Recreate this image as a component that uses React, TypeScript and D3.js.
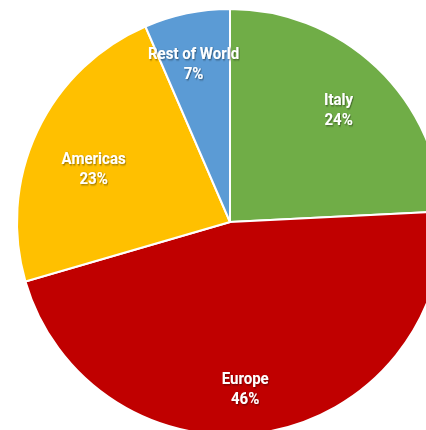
import React from "react";
import * as d3 from "d3";

const categories = ["Italy", "Europe", "Americas", "Rest of World"];
const values = [24.2, 46.3, 23.0, 6.5];
const colors = ["#70AD47", "#C00000", "#FFC000", "#5B9BD5"];

const W = 426, H = 430;
const cx = 230, cy = 222, R = 213;

export default function App() {
  const data = categories.map((c, i) => ({ c, v: values[i], col: colors[i] }));
  const pie = d3.pie<any>().value((d) => d.v).sort(null);
  const arcs = pie(data);
  const arc = d3.arc<any>().innerRadius(0).outerRadius(R);
  const total = d3.sum(values);
  const labelR: Record<string, number> = { Italy: 0.74, Europe: 0.78, Americas: 0.69, "Rest of World": 0.77 };
  const labelShift: Record<string, number> = { Europe: 0.075, Americas: -0.058, "Rest of World": -0.02 };
  return (
    <svg width={W} height={H} style={{ position: "absolute", left: 0, top: 0 }}>
      <defs>
        <filter id="sh" x="-20%" y="-20%" width="140%" height="140%">
          <feDropShadow dx="1" dy="1" stdDeviation="0.8" floodColor="#000" floodOpacity="0.45" />
        </filter>
      </defs>
      <g transform={`translate(${cx},${cy})`}>
        {arcs.map((a, i) => (
          <path key={i} d={arc(a) || ""} fill={a.data.col} stroke="#fff" strokeWidth={2} />
        ))}
        {arcs.map((a, i) => {
          const mid = (a.startAngle + a.endAngle) / 2 + (labelShift[a.data.c] || 0);
          const r = R * (labelR[a.data.c] || 0.74);
          const x = r * Math.sin(mid);
          const y = -r * Math.cos(mid);
          const pct = Math.round((a.data.v / total) * 100) + "%";
          return (
            <g key={"l" + i} transform={`translate(${x},${y}) scale(0.94,1)`} filter="url(#sh)">
              <text textAnchor="middle" y={-3} fill="#fff" fontFamily="Roboto, sans-serif" fontWeight="bold" fontSize={16}>
                {a.data.c}
              </text>
              <text textAnchor="middle" y={17} fill="#fff" fontFamily="Roboto, sans-serif" fontWeight="bold" fontSize={16}>
                {pct}
              </text>
            </g>
          );
        })}
      </g>
    </svg>
  );
}
